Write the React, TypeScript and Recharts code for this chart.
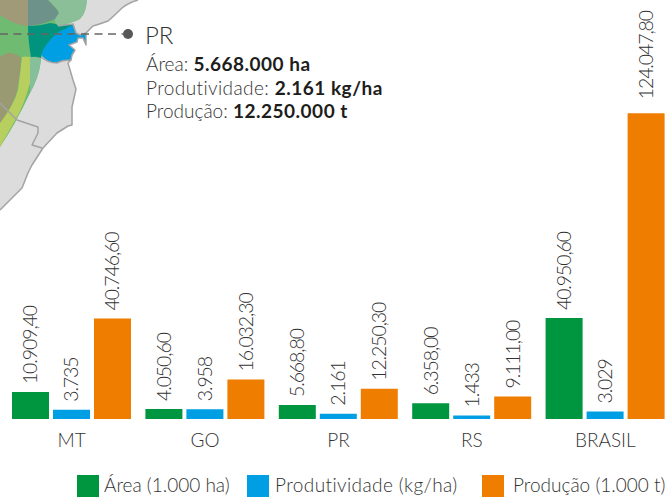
import React from 'react';
import { BarChart, Bar, XAxis, YAxis, LabelList } from 'recharts';

const categories = ['MT', 'GO', 'PR', 'RS', 'BRASIL'];
const area = [10909.4, 4050.6, 5668.8, 6358.0, 40950.6];
const produtividade = [3735, 3958, 2161, 1433, 3029];
const producao = [40746.6, 16032.3, 12250.3, 9111.0, 124047.8];
const areaLabels = ['10.909,40', '4.050,60', '5.668,80', '6.358,00', '40.950,60'];
const produtividadeLabels = ['3.735', '3.958', '2.161', '1.433', '3.029'];
const producaoLabels = ['40.746,60', '16.032,30', '12.250,30', '9.111,00', '124.047,80'];

const FONT = 'Lato, sans-serif';
const GREEN = '#009640';
const BLUE = '#009fe3';
const ORANGE = '#ef7d00';
const TEXT = '#333333';
const BORDER = '#a3a3a3';

const data = categories.map((name, i) => ({
  name,
  area: area[i],
  produtividade: produtividade[i],
  producao: producao[i],
}));

const legendItems = [
  { label: 'Área (1.000 ha)', color: GREEN, x: 77, textX: 104, spacing: 0 },
  { label: 'Produtividade (kg/ha)', color: BLUE, x: 247, textX: 275, spacing: 0.4 },
  { label: 'Produção (1.000 t)', color: ORANGE, x: 482, textX: 513, spacing: 0 },
];

// vertical value label sitting on top of each bar
function makeLabel(labels: string[]) {
  return function VerticalLabel(props: any) {
    const { x, y, width, index } = props;
    const cx = x + width / 2 + 7;
    // the tallest bar's label floats a bit higher in the original
    const cy = y - (labels[index].length > 9 ? 14 : 8);
    return (
      <text
        x={cx}
        y={cy}
        transform={`rotate(-90 ${cx} ${cy})`}
        fontFamily={FONT}
        fontWeight={300}
        fontSize={19.5}
        letterSpacing={-1.1}
        fill={TEXT}
      >
        {labels[index]}
      </text>
    );
  };
}

function InfoLine({ y, label, value, spacing = 0 }: { y: number; label: string; value: string; spacing?: number }) {
  return (
    <text x={146} y={y} fontFamily={FONT} fontSize={19} fill={TEXT}>
      <tspan fontWeight={300} letterSpacing={spacing}>{label} </tspan>
      <tspan fontWeight={700} letterSpacing={0.5} fill="#1d1d1b">{value}</tspan>
    </text>
  );
}

function MapInset() {
  return (
    <svg width={671} height={220} style={{ position: 'absolute', left: 0, top: 0 }}>
      {/* land */}
      <path
        d="M138 0 Q128 3 122 8 Q114 16 108 21 Q100 24 93 26 L86 33 L86 45 L83 38 L78 38 L77 42 L69 45 L75 50 L72 55 L71 60 L68 63 L73 80 L76 89 L72 107 L72 125 L68 126 L57 133 L43 148 L32 165 L28 173 L22 188 L0 210 L0 0 Z"
        fill="#dcdcdc"
      />
      <path d="M0 0 H86 Q87 12 80 19 Q70 24 56 26 L73 25 L60 40 L41 58 L41 60 Q38 80 30 93 Q15 125 0 147 Z" fill="#6fbb72" />
      {/* overlapping crop regions */}
      <path d="M22 57 Q26 56 30 57 L30 83 Q24 105 17 117 L0 147 L0 122 Q14 105 18 90 Z" fill="#b6cf5e" />
      <path d="M30 57 Q36 57 41 58 Q40 72 36 80 L30 93 Z" fill="#85c09a" />
      <path d="M0 57 Q5 53 10 53 Q18 54 21 58 Q21 68 18 85 Q16 102 0 123 Z" fill="#9a9a72" />
      <path d="M28 26 Q40 26 50 23 L56 24 L74 25 L65 32 L48 45 L41 55 L41 58 Q36 56 31 57 Q28 40 28 26 Z" fill="#00947f" />
      <path d="M48 0 H87 Q87 10 80 19 Q70 24 58 26 Q54 22 55 18 Q59 14 58 10 Z" fill="#8abf98" />
      <path d="M28 0 H48 Q56 8 59 13 Q56 17 55 19 Q42 25 28 26 Z" fill="#6c9289" />
      <path d="M0 0 H28 V26 Q14 25 0 15 Z" fill="#a09a78" />
      {/* state fill and its coast */}
      <path
        d="M73 25 L76 33 L80 35 L86 33 L86 45 L83 38 L78 38 L77 42 L69 45 L75 50 L72 55 L71 60 Q62 60 57 63 Q48 63 41 55 Q44 45 57 33 Z"
        fill={BLUE}
      />
      <path
        d="M58 26 L73 24 L76 33 L80 35 L86 33 M86 33 L86 45 L83 38 L78 38 L77 42 L69 45 L75 50 L72 55 L71 60 Q62 60 57 63 Q48 63 41 57"
        fill="none"
        stroke={BORDER}
        strokeWidth={1.5}
        strokeLinejoin="round"
      />
      <path d="M138 0 Q128 3 122 8 Q114 16 108 21 Q100 24 93 26 L86 33" fill="none" stroke={BORDER} strokeWidth={1.5} />
      <path d="M71 60 L68 63 L73 80 L76 89 L72 107 L72 125 L68 126 L57 133 L43 148 L32 165 L28 173 L22 188 L0 210" fill="none" stroke={BORDER} strokeWidth={1.5} strokeLinejoin="round" />
      <path d="M0 103 L17 120 L38 127 L38 133 L32 145 L42 148" fill="none" stroke={BORDER} strokeWidth={1.5} strokeLinejoin="round" />
      {/* callout */}
      <path d="M0 34 H123" stroke="#666666" strokeWidth={1.3} strokeDasharray="8 5.5" fill="none" />
      <circle cx={128} cy={34} r={5} fill="#575756" />
      <text x={145} y={44} fontFamily={FONT} fontWeight={300} fontSize={24} fill={TEXT}>PR</text>
      <InfoLine y={71} label="Área:" value="5.668.000 ha" />
      <InfoLine y={95} label="Produtividade:" value="2.161 kg/ha" spacing={0.4} />
      <InfoLine y={118} label="Produção:" value="12.250.000 t" />
    </svg>
  );
}

function LegendRow() {
  return (
    <svg width={671} height={30} style={{ position: 'absolute', left: 0, top: 467 }}>
      {legendItems.map((item) => (
        <g key={item.label}>
          <rect x={item.x} y={8} width={22} height={22} fill={item.color} />
          <text x={item.textX} y={25} fontFamily={FONT} fontWeight={300} fontSize={19} letterSpacing={item.spacing} fill={TEXT}>
            {item.label}
          </text>
        </g>
      ))}
    </svg>
  );
}

export default function App() {
  return (
    <div style={{ position: 'absolute', left: 0, top: 0, width: 671, height: 497, overflow: 'hidden', background: '#fff', fontVariantLigatures: 'none' }}>
      <MapInset />
      <BarChart
        width={680}
        height={470}
        data={data}
        margin={{ top: 0, right: 8, bottom: 21, left: 5 }}
        barSize={37}
        barGap={4}
        style={{ position: 'absolute', left: 0, top: 0 }}
      >
        <XAxis
          dataKey="name"
          axisLine={false}
          tickLine={false}
          tickMargin={9}
          interval={0}
          tick={{ fontFamily: FONT, fontWeight: 300, fontSize: 19, fill: TEXT }}
        />
        <YAxis hide domain={[0, 170000]} />
        <Bar dataKey="area" fill={GREEN} isAnimationActive={false}>
          <LabelList dataKey="area" content={makeLabel(areaLabels)} />
        </Bar>
        <Bar dataKey="produtividade" fill={BLUE} isAnimationActive={false}>
          <LabelList dataKey="produtividade" content={makeLabel(produtividadeLabels)} />
        </Bar>
        <Bar dataKey="producao" fill={ORANGE} isAnimationActive={false}>
          <LabelList dataKey="producao" content={makeLabel(producaoLabels)} />
        </Bar>
      </BarChart>
      <LegendRow />
    </div>
  );
}
